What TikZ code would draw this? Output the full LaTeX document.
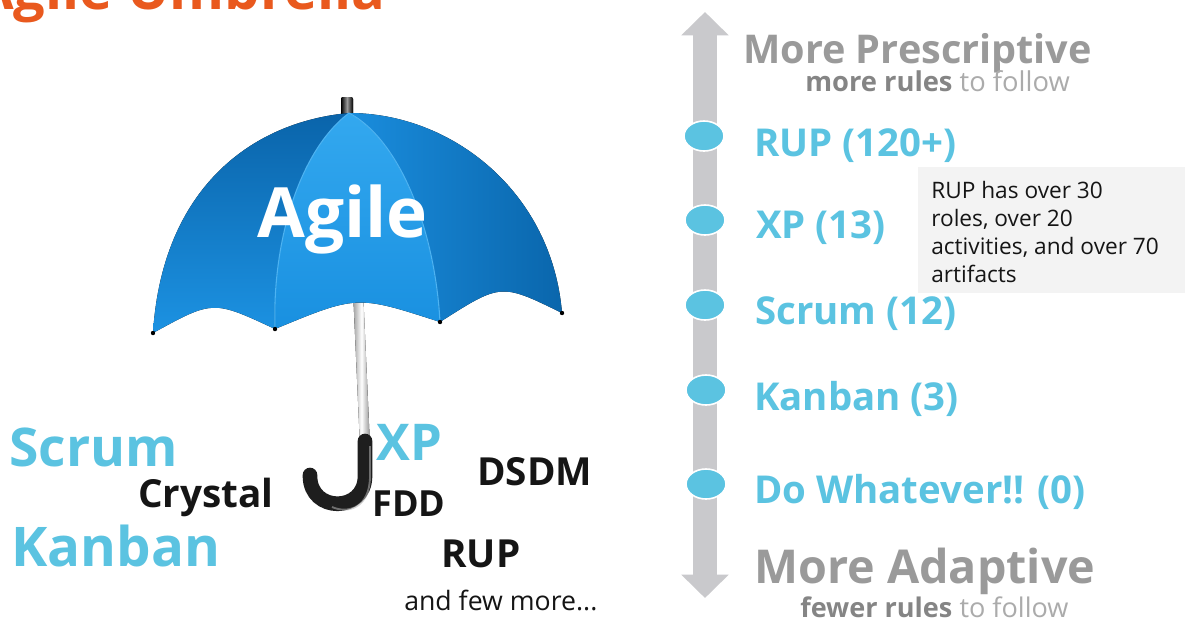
\documentclass[tikz,border=0pt]{standalone}
\usepackage{fontspec}
\setmainfont{Open Sans}
\usetikzlibrary{arrows.meta,shapes.geometric}
\definecolor{wordblue}{HTML}{5BC3E1}
\definecolor{titleorange}{HTML}{E9591E}
\definecolor{axisgray}{HTML}{C9C9CC}
\definecolor{headgray}{HTML}{9A9A9A}
\definecolor{subdark}{HTML}{858585}
\definecolor{sublight}{HTML}{ABABAB}
\definecolor{tipbg}{HTML}{F3F3F3}
\definecolor{canLa}{HTML}{0A64AA}
\definecolor{canLb}{HTML}{1C92E2}
\definecolor{canCa}{HTML}{33A8EF}
\definecolor{canCb}{HTML}{1990E0}
\definecolor{canRa}{HTML}{1A8DDD}
\definecolor{canRb}{HTML}{0A66AC}
\definecolor{ribline}{HTML}{4DB3F2}
\definecolor{handleblack}{HTML}{1E1E1E}
\definecolor{inktext}{HTML}{151515}
\tikzset{
  word/.style={inner sep=0, anchor=base west, font=\bfseries},
  blueword/.style={word, text=wordblue},
  blackword/.style={word, text=inktext},
  dot/.style={ellipse, fill=wordblue, draw=white, line width=1.2pt,
              minimum width=30pt, minimum height=22.5pt, inner sep=0},
  level/.style={word, text=wordblue, font=\bfseries\fontsize{28.8}{34}\selectfont},
  tiptext/.style={inner sep=0, anchor=north west, align=left, text=inktext,
              font=\fontsize{17}{21}\selectfont},
  axistip/.tip={Triangle[width=34.5pt,length=17.5pt]},
}
\begin{document}
\begin{tikzpicture}[x=0.75pt,y=-0.75pt]
\useasboundingbox (0,0) rectangle (1185,619);
\clip (0,0) rectangle (1185,619);
\fill[white] (0,0) rectangle (1185,619);

% title (cut at top edge)
\node[word, text=titleorange, font=\bfseries\fontsize{42}{50}\selectfont] (title) at (-25,9) {Agile Umbrella};

% ---------------- umbrella ----------------
% shaft
\fill[left color=gray!75, right color=gray!85, middle color=white]
  (353,290) -- (363,290) -- (370,446) -- (360,446) -- cycle;
% knob
\fill[rounded corners=1.5pt, left color=black, right color=black, middle color=gray!80]
  (341,97) rectangle (353,117);
% canopy panels
\coordinate (apex) at (349,113);
\coordinate (t1) at (153,333);
\coordinate (t2) at (275,329);
\coordinate (t3) at (440,322);
\coordinate (t4) at (562,313);
\fill[top color=canLa, bottom color=canLb]
  (apex) .. controls (250,122) and (162,190) .. (t1)
  .. controls (213,300) .. (t2)
  .. controls (272,240) and (300,150) .. (apex) -- cycle;
\fill[top color=canCa, bottom color=canCb]
  (apex) .. controls (300,150) and (272,240) .. (t2)
  .. controls (357,295) .. (t3)
  .. controls (435,230) and (400,140) .. (apex) -- cycle;
\fill[left color=canRa, right color=canRb]
  (apex) .. controls (400,140) and (435,230) .. (t3)
  .. controls (501,283) .. (t4)
  .. controls (552,192) and (452,113) .. (apex) -- cycle;
% rib highlights
\draw[ribline, line width=0.8pt] (t2) .. controls (272,240) and (300,150) .. (apex);
\draw[ribline, line width=0.8pt] (t3) .. controls (435,230) and (400,140) .. (apex);
% rib tips
\foreach \t in {t1,t2,t3,t4} \fill[black] (\t) circle[radius=2.2];
% handle
\coordinate (hTop) at (365,441);
\coordinate (hEnd) at (310,475);
\draw[handleblack, line width=11pt, line cap=round]
  (hTop) -- (365,476) .. controls (365,513) and (310,513) .. (310,476) -- (hEnd);
\draw[gray!60, line width=1.4pt, opacity=0.55]
  (370,446) -- (370,476) .. controls (370,508) and (348,514) .. (332,507);

\node[inner sep=0, anchor=base west, text=white, font=\bfseries\fontsize{52}{60}\selectfont] (agile) at (257,237) {Agile};

% words under the umbrella
\node[blueword, font=\bfseries\fontsize{40}{48}\selectfont] (wScrum) at (9,466) {Scrum};
\node[blueword, font=\bfseries\fontsize{41}{48}\selectfont] (wKanban) at (11,566) {Kanban};
\node[blackword, font=\bfseries\fontsize{29}{34}\selectfont] (wCrystal) at (138,507) {Crystal};
\node[blueword, font=\bfseries\fontsize{38}{46}\selectfont] (wXP) at (376,460) {XP};
\node[blackword, font=\bfseries\fontsize{29}{34}\selectfont] (wDSDM) at (477,485) {DSDM};
\node[blackword, font=\bfseries\fontsize{27}{32}\selectfont] (wFDD) at (372,516) {FDD};
\node[blackword, font=\bfseries\fontsize{29}{34}\selectfont] (wRUP) at (441,567) {RUP};
\node[inner sep=0, anchor=base west, text=inktext, font=\fontsize{20}{24}\selectfont] (more) at (404,610) {and few more...};

% ---------------- scale ----------------
\coordinate (aTop) at (705,12);
\coordinate (aBot) at (705,598);
\draw[axisgray, line width=18pt, {axistip}-{axistip}] (aTop) -- (aBot);

\node[word, text=headgray, font=\bfseries\fontsize{29.7}{35}\selectfont] (presc) at (743,63) {More Prescriptive};
\node[inner sep=0, anchor=base west, font=\fontsize{20.5}{24}\selectfont] (prescsub) at (805,91)
  {\textcolor{subdark}{\bfseries more rules} \textcolor{sublight}{to follow}};

\node[dot] (d1) at (704,136) {};
\node[dot] (d2) at (705,220) {};
\node[dot] (d3) at (705,305) {};
\node[dot] (d4) at (706,390) {};
\node[dot] (d5) at (706,484) {};

\node[level] (l1) at (754,156) {RUP (120+)};
\node[level] (l2) at (756,238) {XP (13)};
\node[level] (l3) at (755,324) {Scrum (12)};
\node[level] (l4) at (754,410) {Kanban (3)};
\node[level] (l5) at (754,503) {Do Whatever!! (0)};

\node[word, text=headgray, font=\bfseries\fontsize{35}{42}\selectfont] (adapt) at (754,583) {More Adaptive};
\node[inner sep=0, anchor=base west, font=\fontsize{20.3}{24}\selectfont] (adaptsub) at (800,617)
  {\textcolor{subdark}{\bfseries fewer rules} \textcolor{sublight}{to follow}};

% tooltip
\fill[tipbg] (918,167) rectangle (1190,293);
\node[tiptext] (note) at (931,181) {RUP has over 30\\roles, over 20\\activities, and over 70\\artifacts};
\end{tikzpicture}
\end{document}
